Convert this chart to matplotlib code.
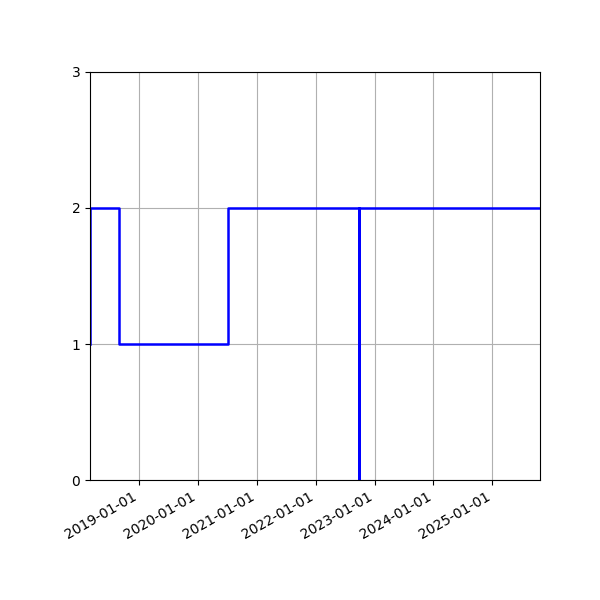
import numpy as np
import matplotlib
matplotlib.use("Agg")
import matplotlib.pyplot as plt
import matplotlib.dates as mdates

# change dates and the state entered at each one (step drawn "pre")
dates = np.array(["2018-03-02", "2018-08-28", "2020-07-03", "2022-09-27",
                  "2022-09-28", "2025-10-23"], dtype="datetime64[D]")
states = [1, 2, 1, 2, 0, 2]
y_ticks = [0, 1, 2, 3]

fig = plt.figure(figsize=(6, 6), dpi=100)
ax = fig.add_axes([0.15, 0.2, 0.75, 0.68])
ax.step(dates, states, where="pre", color="blue", linewidth=1.8)

ax.set_xlim(dates[0], dates[-1])
ax.set_ylim(0, 3)
ax.set_yticks(y_ticks)
ax.xaxis.set_major_locator(mdates.YearLocator())
ax.xaxis.set_major_formatter(mdates.DateFormatter("%Y-%m-%d"))
ax.grid(True)
for lbl in ax.get_xticklabels():
    lbl.set_rotation(30)
    lbl.set_ha("right")

fig.savefig("out.png")
